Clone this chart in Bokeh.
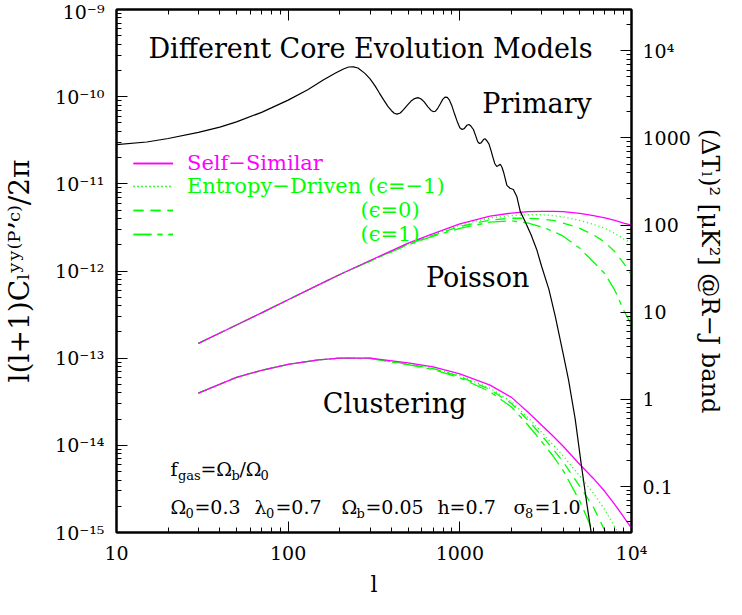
from bokeh.plotting import figure
from bokeh.models import (LogAxis, Range1d, LogScale, FixedTicker, Legend, LegendItem,
                          ColumnDataSource)
from bokeh.core.properties import value
from bokeh.embed import file_html
from bokeh.resources import INLINE

# ---------------- data ----------------
ell = [30, 50, 70, 100, 150, 200, 300, 500, 700, 1000, 1500, 2000, 2500, 3000,
       3500, 4000, 5000, 6000, 7000, 8000, 9000, 10000]

poisson_self_similar = [1.48e-13, 2.40e-13, 3.31e-13, 4.68e-13, 6.92e-13, 9.12e-13, 1.32e-12,
                        2.09e-12, 2.69e-12, 3.47e-12, 4.27e-12, 4.62e-12, 4.79e-12, 4.84e-12,
                        4.84e-12, 4.79e-12, 4.57e-12, 4.32e-12, 4.07e-12, 3.80e-12, 3.55e-12, 3.35e-12]
poisson_entropy_m1 = [1.48e-13, 2.40e-13, 3.31e-13, 4.68e-13, 6.92e-13, 9.12e-13, 1.32e-12,
                      2.04e-12, 2.63e-12, 3.35e-12, 4.07e-12, 4.32e-12, 4.42e-12, 4.42e-12,
                      4.32e-12, 4.17e-12, 3.80e-12, 3.43e-12, 3.09e-12, 2.69e-12, 2.34e-12, 2.07e-12]
poisson_entropy_0 = [1.48e-13, 2.40e-13, 3.31e-13, 4.68e-13, 6.92e-13, 9.12e-13, 1.30e-12,
                     2.04e-12, 2.57e-12, 3.24e-12, 3.85e-12, 4.03e-12, 4.03e-12, 3.94e-12,
                     3.80e-12, 3.55e-12, 3.09e-12, 2.60e-12, 2.14e-12, 1.66e-12, 1.23e-12, 9.0e-13]
poisson_entropy_p1 = [1.48e-13, 2.40e-13, 3.31e-13, 4.68e-13, 6.92e-13, 9.12e-13, 1.30e-12,
                      2.00e-12, 2.51e-12, 3.09e-12, 3.63e-12, 3.76e-12, 3.55e-12, 3.20e-12,
                      2.85e-12, 2.51e-12, 1.82e-12, 1.27e-12, 9.3e-13, 6.0e-13, 3.55e-13, 2.40e-13]

clustering_self_similar = [3.98e-14, 6.03e-14, 7.24e-14, 8.51e-14, 9.55e-14, 1.0e-13, 1.0e-13,
                           8.81e-14, 7.94e-14, 6.61e-14, 4.90e-14, 3.55e-14, 2.40e-14, 1.70e-14,
                           1.27e-14, 9.77e-15, 6.03e-15, 4.17e-15, 2.95e-15, 2.09e-15, 1.51e-15, 1.12e-15]
clustering_entropy_m1 = [3.98e-14, 6.03e-14, 7.24e-14, 8.51e-14, 9.55e-14, 1.0e-13, 1.0e-13,
                         8.61e-14, 7.67e-14, 6.31e-14, 4.52e-14, 3.16e-14, 2.07e-14, 1.41e-14,
                         1.01e-14, 7.59e-15, 4.42e-15, 2.82e-15, 1.82e-15, 1.15e-15, 7.4e-16, 4.8e-16]
clustering_entropy_0 = [3.98e-14, 6.03e-14, 7.24e-14, 8.51e-14, 9.55e-14, 1.0e-13, 1.0e-13,
                        8.51e-14, 7.59e-14, 6.17e-14, 4.37e-14, 3.02e-14, 1.93e-14, 1.29e-14,
                        9.0e-15, 6.46e-15, 3.39e-15, 1.95e-15, 1.05e-15, 5.6e-16, 3.0e-16, 1.7e-16]
clustering_entropy_p1 = [3.98e-14, 6.03e-14, 7.24e-14, 8.51e-14, 9.55e-14, 1.0e-13, 9.89e-14,
                         8.41e-14, 7.41e-14, 5.96e-14, 4.12e-14, 2.75e-14, 1.70e-14, 1.10e-14,
                         7.5e-15, 5.13e-15, 2.29e-15, 1.0e-15, 4.2e-16, 1.6e-16, 6e-17, 2.5e-17]

primary_ell = [10, 15, 20, 30, 40, 50, 70, 100, 130, 160, 190, 210, 225, 240, 255, 280, 300,
               320, 340, 360, 380, 400, 415, 430, 450, 470, 495, 520, 545, 570, 595, 620, 650,
               680, 700, 720, 745, 770, 795, 820, 845, 870, 900, 930, 965, 1000, 1030, 1060,
               1100, 1130, 1160, 1200, 1240, 1270, 1300, 1330, 1370, 1400, 1440, 1480, 1520,
               1560, 1600, 1640, 1680, 1720, 1760, 1800, 1880, 1960, 2050, 2150, 2250, 2400,
               2600, 2800, 3000, 3300, 3600, 4000, 4300, 4700, 5100, 5500, 5800, 6100]
primary = [2.82e-11, 3.02e-11, 3.31e-11, 3.89e-11, 4.47e-11, 5.13e-11, 6.61e-11, 9.12e-11,
           1.20e-10, 1.55e-10, 1.88e-10, 2.08e-10, 2.19e-10, 2.20e-10, 2.13e-10, 1.85e-10,
           1.60e-10, 1.34e-10, 1.10e-10, 9.2e-11, 7.8e-11, 6.9e-11, 6.45e-11, 6.3e-11,
           6.5e-11, 7.1e-11, 8.0e-11, 8.9e-11, 9.5e-11, 9.75e-11, 9.4e-11, 8.7e-11, 7.7e-11,
           6.95e-11, 6.75e-11, 6.8e-11, 7.4e-11, 8.3e-11, 9.3e-11, 9.9e-11, 9.8e-11, 9.1e-11,
           7.8e-11, 6.4e-11, 5.2e-11, 4.4e-11, 4.2e-11, 4.3e-11, 4.7e-11, 4.8e-11, 4.6e-11,
           4.2e-11, 3.5e-11, 3.05e-11, 2.9e-11, 2.95e-11, 3.2e-11, 3.3e-11, 3.1e-11, 2.85e-11,
           2.4e-11, 2.0e-11, 1.7e-11, 1.58e-11, 1.62e-11, 1.68e-11, 1.55e-11, 1.35e-11,
           9.6e-12, 8.9e-12, 8.6e-12, 7.1e-12, 4.8e-12, 3.7e-12, 2.6e-12, 1.78e-12, 1.12e-12,
           6.2e-13, 3.0e-13, 1.12e-13, 5.6e-14, 2.0e-14, 6.0e-15, 2.1e-15, 1.05e-15, 5.0e-16]

# conversion y -> (Delta T)^2 [muK^2] in the Rayleigh-Jeans band
rj_factor = 2.97e13

x_ticks = [10, 100, 1000, 10000]
x_tick_labels = ["10", "100", "1000", "10\u2074"]
y_ticks = [1e-15, 1e-14, 1e-13, 1e-12, 1e-11, 1e-10, 1e-9]
y_tick_labels = ["10\u207b\u00b9\u2075", "10\u207b\u00b9\u2074", "10\u207b\u00b9\u00b3",
                 "10\u207b\u00b9\u00b2", "10\u207b\u00b9\u00b9", "10\u207b\u00b9\u2070",
                 "10\u207b\u2079"]
dt_ticks = [0.1, 1, 10, 100, 1000, 10000]
dt_tick_labels = ["0.1", "1", "10", "100", "1000", "10\u2074"]

# ---------------- styling ----------------
FONT = "DejaVu Serif"
MAG = "#ff00ff"
GRN = "#00ff00"
DOT = "1 3"
DASH = "10 7"
LONGDASH = "18 6 5 6"

p = figure(width=726, height=599, x_axis_type="log", y_axis_type="log",
           x_range=Range1d(10, 1e4), y_range=Range1d(1e-15, 1e-9),
           output_backend="svg", toolbar_location=None,
           min_border_left=113, min_border_right=89, min_border_top=9, min_border_bottom=61)
p.grid.visible = False
p.outline_line_color = "black"
p.outline_line_width = 2
p.background_fill_color = "white"
p.border_fill_color = "white"

p.extra_y_ranges = {"dt": Range1d(1e-15 * rj_factor, 1e-9 * rj_factor)}
p.extra_y_scales = {"dt": LogScale()}


def minor_of(lo_exp, hi_exp):
    return [m * 10.0 ** e for e in range(lo_exp, hi_exp) for m in range(2, 10)]


def style_axis(ax):
    ax.axis_line_width = 2
    ax.major_tick_in = 11
    ax.major_tick_out = 0
    ax.minor_tick_in = 5
    ax.minor_tick_out = 0
    ax.major_tick_line_width = 1
    ax.minor_tick_line_width = 1
    ax.major_label_text_font = FONT
    ax.major_label_text_font_size = "19px"
    ax.major_label_text_color = "black"
    ax.axis_label_text_font = FONT
    ax.axis_label_text_font_style = "normal"
    ax.axis_label_text_color = "black"


xax = p.xaxis[0]
xax.ticker = FixedTicker(ticks=x_ticks, minor_ticks=minor_of(1, 4))
xax.major_label_overrides = dict(zip(x_ticks, x_tick_labels))
style_axis(xax)
xax.major_label_standoff = 9
xax.axis_label = "l"
xax.axis_label_text_font_size = "22px"
xax.axis_label_standoff = 5

yax = p.yaxis[0]
yax.ticker = FixedTicker(ticks=y_ticks, minor_ticks=minor_of(-15, -9))
yax.major_label_overrides = dict(zip(y_ticks, y_tick_labels))
style_axis(yax)
yax.major_label_standoff = 12
yax.axis_label = "l(l+1)C\u2097\u02b8\u02b8\u207d\u1d3e\u02bc\u1d9c\u207e/2\u03c0"
yax.axis_label_text_font_size = "28px"
yax.axis_label_standoff = 16

top = LogAxis(ticker=FixedTicker(ticks=x_ticks, minor_ticks=minor_of(1, 4)))
style_axis(top)
top.major_label_text_font_size = "0px"
top.major_label_standoff = 0
top.major_label_overrides = {t: "" for t in x_ticks}
p.add_layout(top, "above")

right = LogAxis(y_range_name="dt",
                ticker=FixedTicker(ticks=dt_ticks, minor_ticks=minor_of(-2, 5)))
style_axis(right)
right.major_label_overrides = dict(zip(dt_ticks, dt_tick_labels))
right.major_label_standoff = 11
right.axis_label = "(\u0394T\u2097)\u00b2 [\u03bcK\u00b2] @R\u2212J band"
right.axis_label_text_font_size = "24px"
right.axis_label_standoff = 2
p.add_layout(right, "right")

# ---------------- curves ----------------
lw = 1.3
rp_m1 = p.line(ell, poisson_entropy_m1, line_color=GRN, line_width=lw, line_dash=DOT)
rp_0 = p.line(ell, poisson_entropy_0, line_color=GRN, line_width=lw, line_dash=DASH)
rp_p1 = p.line(ell, poisson_entropy_p1, line_color=GRN, line_width=lw, line_dash=LONGDASH)
rc_m1 = p.line(ell, clustering_entropy_m1, line_color=GRN, line_width=lw, line_dash=DOT)
rc_0 = p.line(ell, clustering_entropy_0, line_color=GRN, line_width=lw, line_dash=DASH)
rc_p1 = p.line(ell, clustering_entropy_p1, line_color=GRN, line_width=lw, line_dash=LONGDASH)
rp_ss = p.line(ell, poisson_self_similar, line_color=MAG, line_width=lw)
rc_ss = p.line(ell, clustering_self_similar, line_color=MAG, line_width=lw)
p.line(primary_ell, primary, line_color="black", line_width=1.2)

# ---------------- legends ----------------
NB = "\u00a0" * 26
leg1 = Legend(items=[LegendItem(label="Self\u2212Similar", renderers=[rp_ss, rc_ss])],
              location=(17, 357))
leg2 = Legend(items=[LegendItem(label="Entropy\u2212Driven (\u03f5=\u22121)", renderers=[rp_m1, rc_m1]),
                     LegendItem(label=NB + "(\u03f5=0)", renderers=[rp_0, rc_0]),
                     LegendItem(label=NB + "(\u03f5=1)", renderers=[rp_p1, rc_p1])],
              location=(17, 286))
for leg, col in ((leg1, MAG), (leg2, GRN)):
    leg.glyph_width = 40
    leg.glyph_height = 20
    leg.label_height = 20
    leg.label_standoff = 14
    leg.padding = 0
    leg.margin = 0
    leg.spacing = -1
    leg.border_line_color = None
    leg.background_fill_alpha = 0
    leg.label_text_font = FONT
    leg.label_text_font_size = "21px"
    leg.label_text_color = col
    p.add_layout(leg)

# ---------------- annotations ----------------
big = dict(text_font=value(FONT), text_font_size=value("27px"), text_color="black",
           text_align="center", text_baseline="middle")
p.text(x=[301.8], y=[3.6e-10], text=["Different Core Evolution Models"], **big)
p.text(x=[2818], y=[8.4e-11], text=["Primary"], **big)
p.text(x=[1270], y=[8.4e-13], text=["Poisson"], **big)
p.text(x=[417], y=[3.0e-14], text=["Clustering"], **big)

# cosmological parameter lines (main runs and subscripts offset in pixels)
anchor_ell = 20.6
line1_y = 5.3e-15
line2_y = 1.95e-15
main_runs = ColumnDataSource(dict(
    x=[anchor_ell] * 12,
    y=[line1_y] * 3 + [line2_y] * 9,
    text=["f", "=\u03a9", "/\u03a9",
          "\u03a9", "=0.3", "\u03bb", "=0.7", "\u03a9", "=0.05", "h=0.7", "\u03c3", "=1.0"],
    xo=[0, 30, 69, 0, 24, 84, 105, 171, 195, 267, 343, 364]))
sub_runs = ColumnDataSource(dict(
    x=[anchor_ell] * 7,
    y=[line1_y] * 3 + [line2_y] * 4,
    text=["gas", "b", "0", "0", "0", "b", "8"],
    xo=[7.5, 61, 90, 15, 95.5, 186, 354.5]))
p.text(x="x", y="y", text="text", x_offset="xo", source=main_runs,
       text_font=value(FONT), text_font_size=value("19px"), text_color="black",
       text_align="left", text_baseline="middle")
p.text(x="x", y="y", text="text", x_offset="xo", y_offset=6, source=sub_runs,
       text_font=value(FONT), text_font_size=value("13px"), text_color="black",
       text_align="left", text_baseline="middle")

open("out.html", "w").write(file_html(p, INLINE))
